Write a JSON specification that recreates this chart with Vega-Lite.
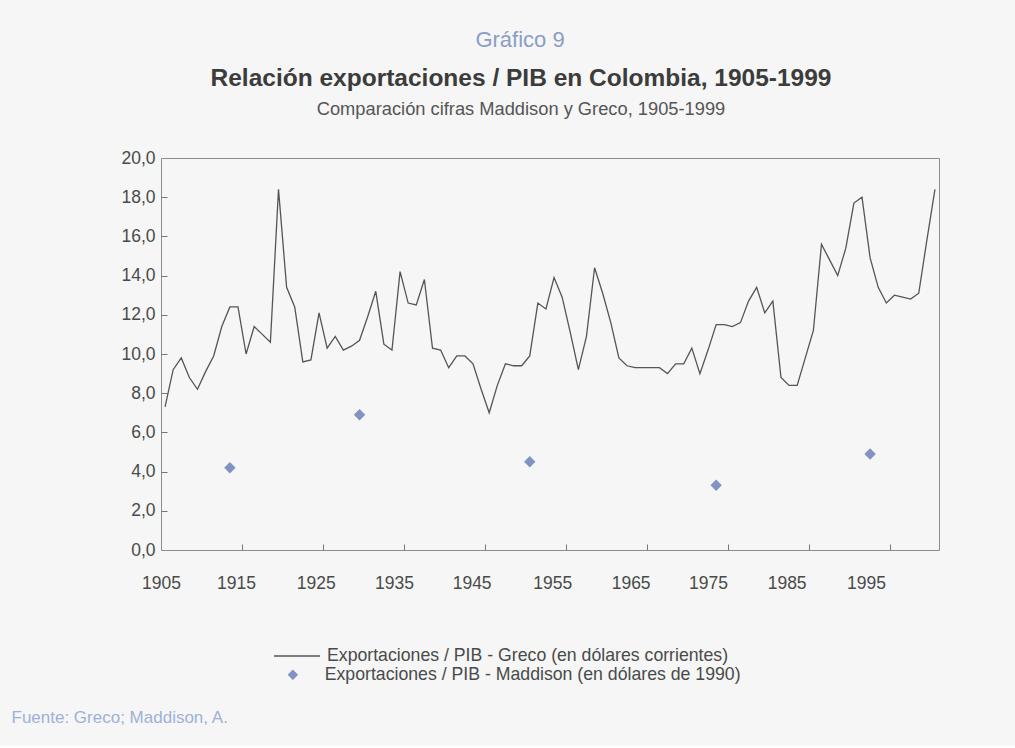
{
  "$schema": "https://vega.github.io/schema/vega-lite/v6.json",
  "padding": {"left": 10, "top": 28, "right": 77, "bottom": 20},
  "background": "#f5f6f5",
  "datasets": {
    "greco": [
      {"anio": 1905, "valor": 7.3}, {"anio": 1906, "valor": 9.2}, {"anio": 1907, "valor": 9.8}, {"anio": 1908, "valor": 8.8},
      {"anio": 1909, "valor": 8.2}, {"anio": 1910, "valor": 9.1}, {"anio": 1911, "valor": 9.9}, {"anio": 1912, "valor": 11.4},
      {"anio": 1913, "valor": 12.4}, {"anio": 1914, "valor": 12.4}, {"anio": 1915, "valor": 10.0}, {"anio": 1916, "valor": 11.4},
      {"anio": 1917, "valor": 11.0}, {"anio": 1918, "valor": 10.6}, {"anio": 1919, "valor": 18.4}, {"anio": 1920, "valor": 13.4},
      {"anio": 1921, "valor": 12.4}, {"anio": 1922, "valor": 9.6}, {"anio": 1923, "valor": 9.7}, {"anio": 1924, "valor": 12.1},
      {"anio": 1925, "valor": 10.3}, {"anio": 1926, "valor": 10.9}, {"anio": 1927, "valor": 10.2}, {"anio": 1928, "valor": 10.4},
      {"anio": 1929, "valor": 10.7}, {"anio": 1930, "valor": 11.9}, {"anio": 1931, "valor": 13.2}, {"anio": 1932, "valor": 10.5},
      {"anio": 1933, "valor": 10.2}, {"anio": 1934, "valor": 14.2}, {"anio": 1935, "valor": 12.6}, {"anio": 1936, "valor": 12.5},
      {"anio": 1937, "valor": 13.8}, {"anio": 1938, "valor": 10.3}, {"anio": 1939, "valor": 10.2}, {"anio": 1940, "valor": 9.3},
      {"anio": 1941, "valor": 9.9}, {"anio": 1942, "valor": 9.9}, {"anio": 1943, "valor": 9.5}, {"anio": 1944, "valor": 8.2},
      {"anio": 1945, "valor": 7.0}, {"anio": 1946, "valor": 8.4}, {"anio": 1947, "valor": 9.5}, {"anio": 1948, "valor": 9.4},
      {"anio": 1949, "valor": 9.4}, {"anio": 1950, "valor": 9.9}, {"anio": 1951, "valor": 12.6}, {"anio": 1952, "valor": 12.3},
      {"anio": 1953, "valor": 13.9}, {"anio": 1954, "valor": 12.9}, {"anio": 1955, "valor": 11.1}, {"anio": 1956, "valor": 9.2},
      {"anio": 1957, "valor": 10.9}, {"anio": 1958, "valor": 14.4}, {"anio": 1959, "valor": 13.1}, {"anio": 1960, "valor": 11.6},
      {"anio": 1961, "valor": 9.8}, {"anio": 1962, "valor": 9.4}, {"anio": 1963, "valor": 9.3}, {"anio": 1964, "valor": 9.3},
      {"anio": 1965, "valor": 9.3}, {"anio": 1966, "valor": 9.3}, {"anio": 1967, "valor": 9.0}, {"anio": 1968, "valor": 9.5},
      {"anio": 1969, "valor": 9.5}, {"anio": 1970, "valor": 10.3}, {"anio": 1971, "valor": 9.0}, {"anio": 1972, "valor": 10.2},
      {"anio": 1973, "valor": 11.5}, {"anio": 1974, "valor": 11.5}, {"anio": 1975, "valor": 11.4}, {"anio": 1976, "valor": 11.6},
      {"anio": 1977, "valor": 12.7}, {"anio": 1978, "valor": 13.4}, {"anio": 1979, "valor": 12.1}, {"anio": 1980, "valor": 12.7},
      {"anio": 1981, "valor": 8.8}, {"anio": 1982, "valor": 8.4}, {"anio": 1983, "valor": 8.4}, {"anio": 1984, "valor": 9.8},
      {"anio": 1985, "valor": 11.2}, {"anio": 1986, "valor": 15.6}, {"anio": 1987, "valor": 14.8}, {"anio": 1988, "valor": 14.0},
      {"anio": 1989, "valor": 15.4}, {"anio": 1990, "valor": 17.7}, {"anio": 1991, "valor": 18.0}, {"anio": 1992, "valor": 14.9},
      {"anio": 1993, "valor": 13.4}, {"anio": 1994, "valor": 12.6}, {"anio": 1995, "valor": 13.0}, {"anio": 1996, "valor": 12.9},
      {"anio": 1997, "valor": 12.8}, {"anio": 1998, "valor": 13.1}, {"anio": 1999, "valor": 15.8}, {"anio": 2000, "valor": 18.4}
    ],
    "maddison": [
      {"anio": 1913, "valor": 4.2}, {"anio": 1929, "valor": 6.9}, {"anio": 1950, "valor": 4.5},
      {"anio": 1973, "valor": 3.3}, {"anio": 1992, "valor": 4.9}
    ]
  },
  "title": {
    "text": "Gráfico 9",
    "font": "Liberation Sans",
    "fontSize": 22,
    "fontWeight": "normal",
    "color": "#8b9dc6",
    "anchor": "middle",
    "frame": "group",
    "dx": -30,
    "offset": 14
  },
  "vconcat": [
    {
      "width": 778,
      "height": 392,
      "title": {
        "text": "Relación exportaciones / PIB en Colombia, 1905-1999",
        "subtitle": "Comparación cifras Maddison y Greco, 1905-1999",
        "font": "Liberation Sans",
        "fontSize": 24.5,
        "fontWeight": "bold",
        "color": "#3c3c3c",
        "subtitleFont": "Liberation Sans",
        "subtitleFontSize": 18.3,
        "subtitleColor": "#555555",
        "subtitlePadding": 9,
        "anchor": "middle",
        "frame": "group",
        "dx": -29,
        "offset": 30
      },
      "layer": [
        {
          "data": {"name": "greco"},
          "mark": {"type": "line", "strokeWidth": 1.3},
          "encoding": {
            "x": {
              "field": "anio", "type": "quantitative",
              "scale": {"domain": [1904.5, 2000.5], "nice": false, "zero": false},
              "axis": {
                "orient": "bottom", "title": null, "labels": false, "domain": false, "grid": false,
                "values": [1914.5, 1924.5, 1934.5, 1944.5, 1954.5, 1964.5, 1974.5, 1984.5, 1994.5],
                "ticks": true, "tickSize": -6, "tickColor": "#777777", "tickWidth": 1
              }
            },
            "y": {
              "field": "valor", "type": "quantitative",
              "scale": {"domain": [0, 20], "nice": false},
              "axis": {
                "orient": "left", "title": null, "labels": false, "domain": false, "grid": false,
                "values": [2, 4, 6, 8, 10, 12, 14, 16, 18],
                "ticks": true, "tickSize": -6, "tickColor": "#777777", "tickWidth": 1
              }
            },
            "color": {
              "datum": "Exportaciones / PIB - Greco (en dólares corrientes)",
              "scale": {"range": ["#555555"]},
              "legend": {
                "orient": "none", "legendX": 112, "legendY": 474, "title": null, "padding": 0,
                "symbolType": "stroke", "symbolSize": 2116, "symbolStrokeWidth": 1.3,
                "labelFont": "Liberation Sans", "labelFontSize": 17.7, "labelColor": "#4a4a4a",
                "labelOffset": 6, "labelLimit": 0
              }
            }
          }
        },
        {
          "data": {"name": "maddison"},
          "mark": {"type": "point", "shape": "diamond", "filled": true, "size": 130, "opacity": 1},
          "encoding": {
            "x": {
              "field": "anio", "type": "quantitative",
              "scale": {"domain": [1904.5, 2000.5], "nice": false, "zero": false},
              "axis": {
                "orient": "bottom", "domain": false, "grid": false, "ticks": false,
                "values": [1904.5, 1913.76, 1923.6, 1933.24, 1942.83, 1952.77, 1962.45, 1972.0, 1981.7, 1991.5],
                "labelExpr": "toString(1905 + 10 * round((datum.value - 1904.5) / 9.7))",
                "labelFont": "Liberation Sans", "labelFontSize": 17.5, "labelColor": "#4a4a4a",
                "labelPadding": 24, "labelFlush": false,
                "title": "Fuente: Greco; Maddison, A.",
                "titleFont": "Liberation Sans", "titleFontSize": 17, "titleFontWeight": "normal",
                "titleColor": "#9fb1d8", "titleAnchor": "start", "titleAlign": "left",
                "titleBaseline": "middle", "titleX": -150, "titleY": 167
              }
            },
            "y": {
              "field": "valor", "type": "quantitative",
              "scale": {"domain": [0, 20], "nice": false},
              "axis": {
                "orient": "left", "title": null, "domain": false, "grid": false, "ticks": false,
                "values": [0, 2, 4, 6, 8, 10, 12, 14, 16, 18, 20],
                "labelExpr": "replace(format(datum.value, '.1f'), '.', ',')",
                "labelFont": "Liberation Sans", "labelFontSize": 17.5, "labelColor": "#4a4a4a",
                "labelPadding": 6, "labelFlush": false
              }
            },
            "color": {
              "datum": "Exportaciones / PIB - Maddison (en dólares de 1990)",
              "scale": {"range": ["#8193c3"]},
              "legend": {
                "orient": "none", "legendX": 123, "legendY": 508, "title": null, "padding": 0,
                "symbolType": "diamond", "symbolSize": 110,
                "labelFont": "Liberation Sans", "labelFontSize": 17.7, "labelColor": "#4a4a4a",
                "labelOffset": 23, "labelLimit": 0
              }
            }
          }
        }
      ],
      "resolve": {
        "scale": {"color": "independent"},
        "axis": {"x": "independent", "y": "independent"}
      }
    }
  ],
  "config": {
    "view": {"stroke": "#8c8c8c", "strokeWidth": 1},
    "font": "Liberation Sans"
  }
}
